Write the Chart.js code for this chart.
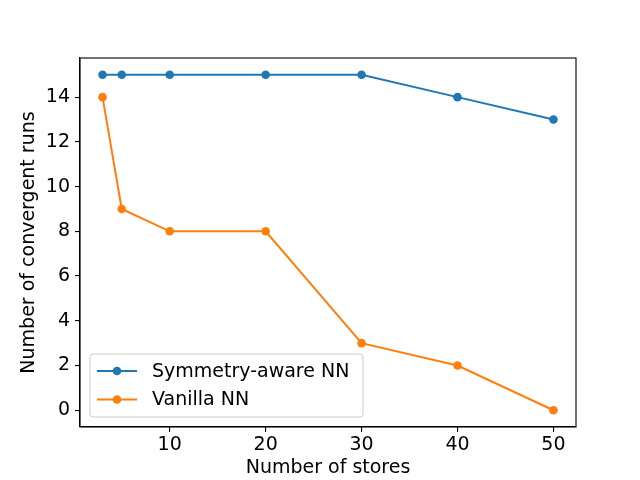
<!DOCTYPE html>
<html>
<head>
<meta charset="utf-8">
<script src="https://cdn.jsdelivr.net/npm/chart.js@4/dist/chart.umd.min.js"></script>
<style>
  html, body { margin: 0; padding: 0; background: #fff; }
  #wrap { width: 640px; height: 480px; }
</style>
</head>
<body>
<div id="wrap"><canvas id="myChart" width="640" height="480"></canvas></div>
<script>
const stores = [3, 5, 10, 20, 30, 40, 50];
const symmetryRuns = [15, 15, 15, 15, 15, 14, 13];
const vanillaRuns = [14, 9, 8, 8, 3, 2, 0];
const xTicks = [10, 20, 30, 40, 50];
const yTicks = [0, 2, 4, 6, 8, 10, 12, 14];

const FONT = "'DejaVu Sans', sans-serif";

// box around the plot like matplotlib spines
const frame = {
  id: 'frame',
  afterDatasetsDraw(chart) {
    const a = chart.chartArea, ctx = chart.ctx;
    ctx.save();
    ctx.strokeStyle = '#000';
    ctx.lineWidth = 1.1;
    ctx.strokeRect(a.left, a.top, a.right - a.left, a.bottom - a.top);
    ctx.restore();
  }
};

// legend drawn inside the plot, lower left
const innerLegend = {
  id: 'innerLegend',
  afterDraw(chart) {
    const a = chart.chartArea, ctx = chart.ctx;
    const x0 = a.left + 10, y1 = a.bottom - 10;
    const w = 273, h = 63;
    const y0 = y1 - h;
    ctx.save();
    ctx.beginPath();
    ctx.roundRect(x0, y0, w, h, 3);
    ctx.fillStyle = 'rgba(255,255,255,0.8)';
    ctx.fill();
    ctx.strokeStyle = '#cccccc';
    ctx.lineWidth = 1;
    ctx.stroke();
    ctx.font = '19px ' + FONT;
    ctx.textBaseline = 'middle';
    chart.data.datasets.forEach((ds, i) => {
      const cy = y0 + 17 + i * 28.5;
      ctx.strokeStyle = ds.borderColor;
      ctx.lineWidth = 2;
      ctx.beginPath();
      ctx.moveTo(x0 + 7, cy);
      ctx.lineTo(x0 + 47, cy);
      ctx.stroke();
      ctx.fillStyle = ds.borderColor;
      ctx.beginPath();
      ctx.arc(x0 + 27, cy, 4.3, 0, Math.PI * 2);
      ctx.fill();
      ctx.fillStyle = '#000';
      ctx.fillText(ds.label, x0 + 62, cy + 1);
    });
    ctx.restore();
  }
};

const ctx = document.getElementById('myChart');
new Chart(ctx, {
  type: 'line',
  data: {
    datasets: [{
      label: 'Symmetry-aware NN',
      data: stores.map((s, i) => ({ x: s, y: symmetryRuns[i] })),
      borderColor: '#1f77b4',
      backgroundColor: '#1f77b4',
      borderWidth: 2,
      pointRadius: 4.3,
      pointBorderWidth: 0,
      tension: 0
    }, {
      label: 'Vanilla NN',
      data: stores.map((s, i) => ({ x: s, y: vanillaRuns[i] })),
      borderColor: '#ff7f0e',
      backgroundColor: '#ff7f0e',
      borderWidth: 2,
      pointRadius: 4.3,
      pointBorderWidth: 0,
      tension: 0
    }]
  },
  options: {
    responsive: false,
    animation: false,
    devicePixelRatio: 1,
    layout: { padding: { left: 0, right: 64, top: 58, bottom: 0 } },
    plugins: { legend: { display: false }, tooltip: { enabled: false } },
    scales: {
      x: {
        type: 'linear',
        min: 0.65,
        max: 52.35,
        afterBuildTicks: (s) => { s.ticks = xTicks.map(v => ({ value: v })); },
        afterFit: (s) => { s.height = 53; },
        grid: { drawOnChartArea: false, tickLength: 5, color: '#000', lineWidth: 1.1 },
        border: { display: true, color: '#000', width: 1.1 },
        ticks: { color: '#000', font: { family: FONT, size: 19 }, padding: 2, maxRotation: 0 },
        title: { display: true, text: 'Number of stores', color: '#000', font: { family: FONT, size: 19 }, padding: { top: 0, bottom: 1 } }
      },
      y: {
        type: 'linear',
        min: -0.75,
        max: 15.75,
        afterBuildTicks: (s) => { s.ticks = yTicks.map(v => ({ value: v })); },
        afterFit: (s) => { s.width = 80; },
        grid: { drawOnChartArea: false, tickLength: 5, color: '#000', lineWidth: 1.1 },
        border: { display: true, color: '#000', width: 1.1 },
        ticks: { color: '#000', font: { family: FONT, size: 19 }, padding: 5 },
        title: { display: true, text: 'Number of convergent runs', color: '#000', font: { family: FONT, size: 19 }, padding: { top: 18, bottom: 0 } }
      }
    }
  },
  plugins: [frame, innerLegend]
});
</script>
</body>
</html>
